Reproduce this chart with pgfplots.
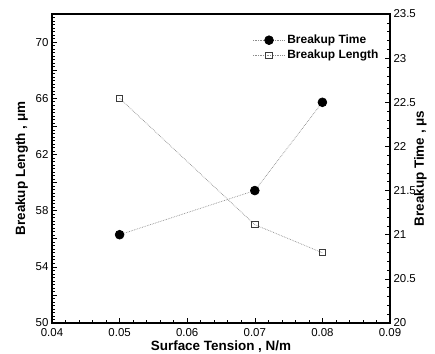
\documentclass[border=0pt]{standalone}
\usepackage{pgfplots}
\pgfplotsset{compat=1.18}
\usepackage{fontspec}
\setmainfont{Liberation Sans}
\definecolor{lgray}{RGB}{140,140,140}
\definecolor{mgray}{RGB}{60,60,60}
\pgfplotsset{
  common/.style={
    scale only axis, width=338bp, height=309bp,
    at={(0,0)}, anchor=south west,
    xmin=0.04, xmax=0.09,
    scaled x ticks=false,
    tick align=inside,
    axis line style={line width=1.1pt},
    major tick length=5bp, minor tick length=3bp,
    every tick/.style={black, line width=0.6pt},
    tick label style={font=\fontsize{11.5}{12}\selectfont},
    label style={font=\bfseries\fontsize{13.5}{14}\selectfont},
    /pgf/number format/assume math mode=true,
  },
  tstyle/.style={lgray, densely dotted, line width=0.7pt, mark=*, mark size=4.4bp, mark options={solid, fill=black, draw=black}},
  lstyle/.style={lgray, densely dotted, line width=0.7pt, mark=square, mark size=3.2bp, mark options={solid, draw=mgray, fill=white, line width=1pt}},
}
\begin{document}
\begin{tikzpicture}
\useasboundingbox (-52bp,-31bp) rectangle (383bp,323bp);
\begin{axis}[common,
  ymin=50, ymax=72,
  xtick={0.04,0.05,0.06,0.07,0.08,0.09},
  xticklabels={0.04,0.05,0.06,0.07,0.08,0.09},
  xticklabel style={yshift=-2bp},
  minor x tick num=4,
  xtick pos=bottom,
  ytick={50,52,54,56,58,60,62,64,66,68,70,72},
  yticklabels={50,,54,,58,,62,,66,,70,},
  minor y tick num=7,
  ytick pos=left,
  xlabel={Surface Tension , N/m},
  ylabel={Breakup Length , μm},
  xlabel style={at={(axis description cs:0.5,-0.078)}, anchor=center},
  ylabel style={at={(axis description cs:-0.09,0.5)}, anchor=center},
]
\addplot[lstyle] coordinates {(0.05,66) (0.07,57) (0.08,55)};
\end{axis}
\begin{axis}[common,
  ymin=20, ymax=23.5,
  hide x axis,
  axis y line*=right,
  ytick={20,20.5,21,21.5,22,22.5,23,23.5},
  yticklabels={20,20.5,21,21.5,22,22.5,23,23.5},
  minor y tick num=4,
  ylabel={Breakup Time , μs},
  ylabel style={at={(axis description cs:1.09,0.5)}, anchor=center},
  legend style={draw=none, fill=none, at={(0.975,0.942)}, anchor=north east,
    font=\bfseries\fontsize{12}{13}\selectfont, row sep=1bp, inner sep=1bp},
  legend cell align=left,
  legend image code/.code={\draw[mark repeat=2,mark phase=2] plot coordinates {(0bp,0bp)(16bp,0bp)(32bp,0bp)};},
]
\addplot[tstyle] coordinates {(0.05,21.0) (0.07,21.5) (0.08,22.5)};
\addlegendentry{Breakup Time}
\addlegendimage{lstyle}
\addlegendentry{Breakup Length}
\end{axis}
\end{tikzpicture}
\end{document}
